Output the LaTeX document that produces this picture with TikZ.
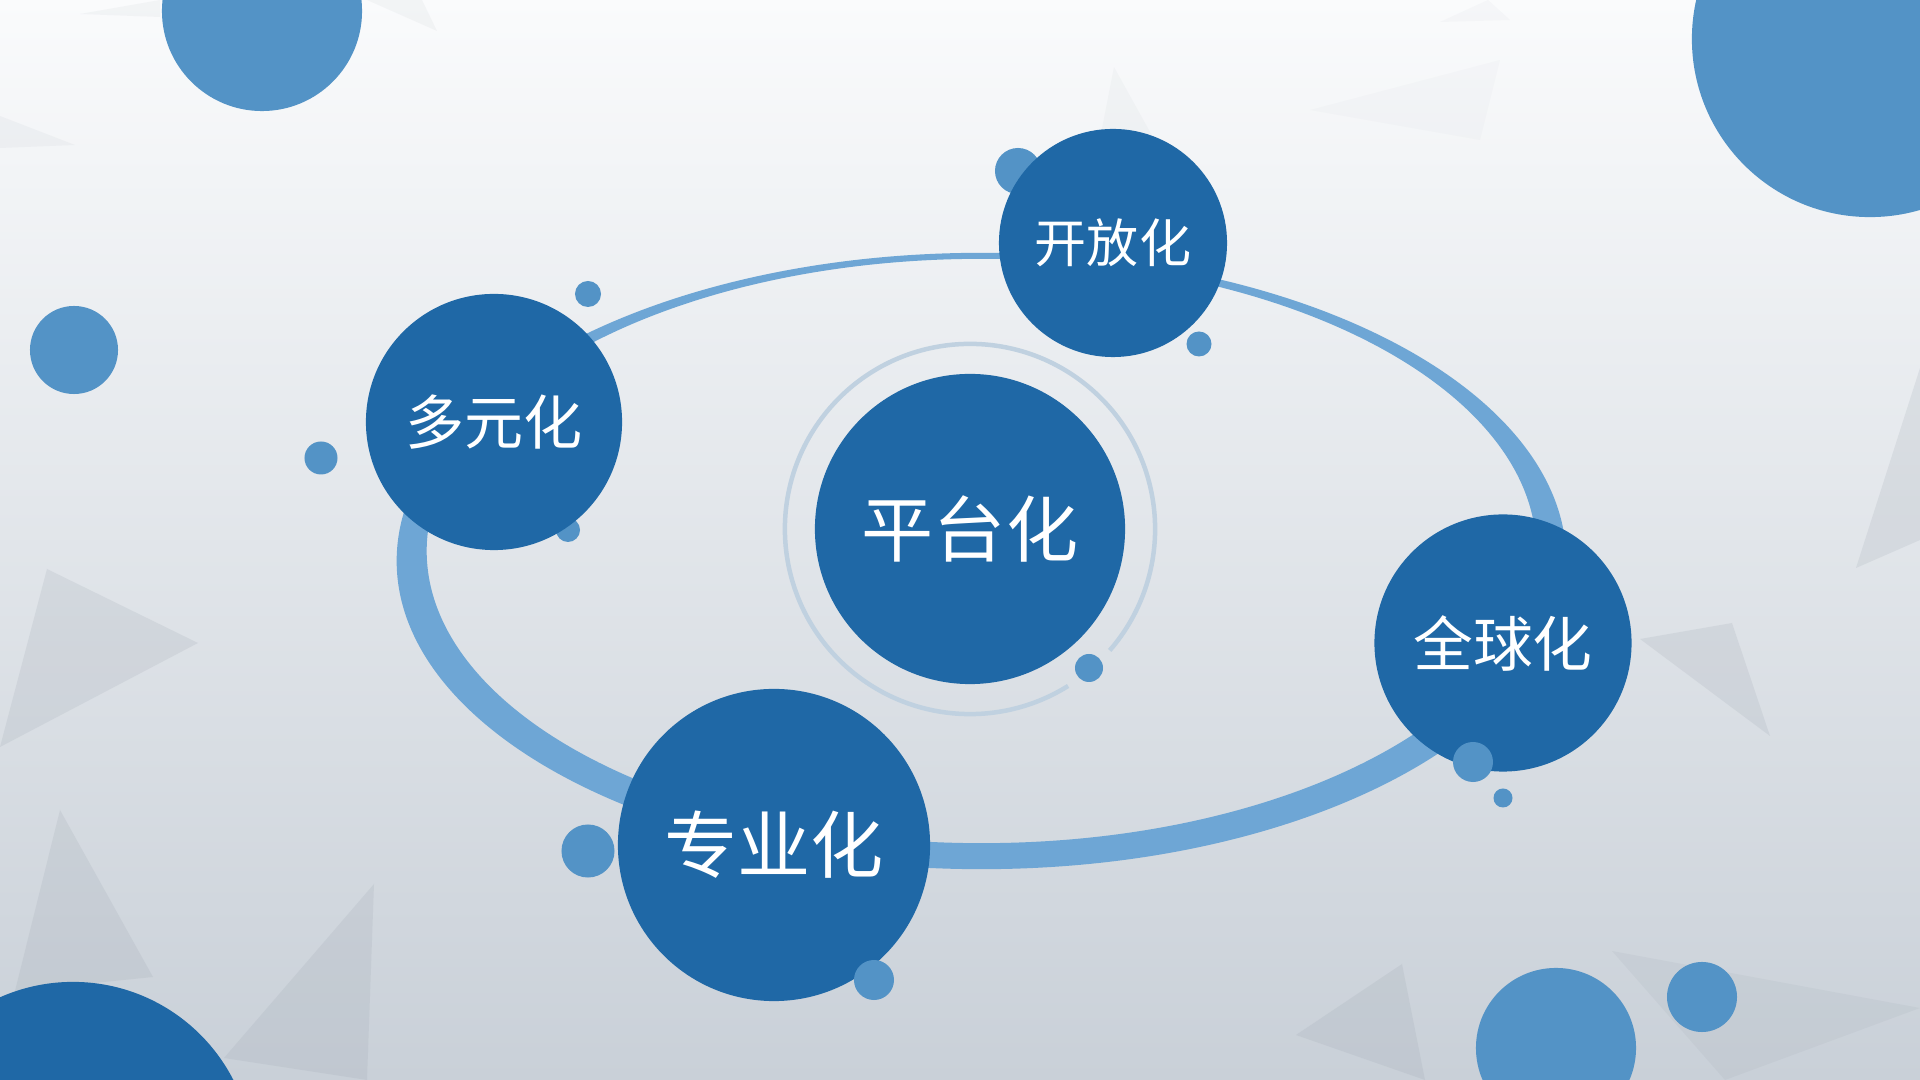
\documentclass[tikz,border=0pt]{standalone}
\usepackage{fontspec}
\newfontfamily\cjk{Noto Sans CJK SC}
\definecolor{darkc}{HTML}{1F68A6}
\definecolor{lightc}{HTML}{5393C6}
\definecolor{ringc}{HTML}{6EA6D5}
\definecolor{innerc}{HTML}{C0D1E0}
\definecolor{bgtop}{HTML}{FAFBFC}
\definecolor{bgbot}{HTML}{C9D0D8}
\definecolor{tri}{HTML}{9AA3AE}
\tikzset{
  maincirc/.style={circle, fill=darkc, text=white, inner sep=0pt},
  dot/.style={fill=lightc},
  tribg/.style={fill=tri, fill opacity=0.18},
}
\begin{document}
\begin{tikzpicture}[x=0.01cm,y=-0.01cm]
\useasboundingbox (0,0) rectangle (1920,1080);
% background
\shade[top color=bgtop, bottom color=bgbot] (0,0) rectangle (1920,1080);
% faint triangles
\fill[tribg] (47,569) -- (198,643) -- (0,747) -- cycle;
\fill[tribg] (60,810) -- (153,977) -- (15,991) -- cycle;
\fill[tribg] (374,884) -- (224,1058) -- (367,1080) -- cycle;
\fill[tribg] (1402,964) -- (1296,1035) -- (1425,1080) -- cycle;
\fill[tribg] (1640,639) -- (1732,623) -- (1770,736) -- cycle;
\fill[tribg] (1920,368) -- (1856,568) -- (1920,540) -- cycle;
\fill[tribg, fill opacity=0.12] (1612,951) -- (1920,1008) -- (1725,1080) -- cycle;
\fill[tribg, fill opacity=0.08] (160,0) -- (80,14) -- (160,17) -- cycle;
\fill[tribg, fill opacity=0.08] (367,0) -- (437,31) -- (422,0) -- cycle;
\fill[tribg, fill opacity=0.08] (0,116) -- (75,145) -- (0,148) -- cycle;
\fill[tribg, fill opacity=0.06] (1114,67) -- (1090,190) -- (1160,150) -- cycle;
\fill[tribg, fill opacity=0.05] (1440,22) -- (1488,0) -- (1510,20) -- cycle;
\fill[tribg, fill opacity=0.04] (1310,110) -- (1500,60) -- (1480,140) -- cycle;
% dots behind circles
\fill[dot] (1018,171) circle[radius=0.23cm];
\fill[dot] (568,530) circle[radius=0.12cm];
% big ring
\fill[ringc, even odd rule] (981.5,561) ellipse[x radius=5.845cm, y radius=3.08cm]
  (981.5,551) ellipse[x radius=5.545cm, y radius=2.92cm];
% inner ring around centre
\draw[innerc, line width=0.45mm] (970,529) ++(-41:1.85cm) arc[start angle=-41, end angle=302, radius=1.85cm];
% background dots
\fill[dot] (262,11) circle[radius=1.0cm];
\fill[dot] (1870,39) circle[radius=1.78cm];
\fill[dot] (74,350) circle[radius=0.44cm];
\fill[dot] (588,294) circle[radius=0.13cm];
\fill[dot] (321,458) circle[radius=0.165cm];
\fill[dot] (1199,344) circle[radius=0.125cm];
\fill[dot] (588,851) circle[radius=0.265cm];
\fill[dot] (1089,668) circle[radius=0.14cm];
\fill[dot] (1503,798) circle[radius=0.095cm];
\fill[dot] (1556,1048) circle[radius=0.80cm];
\fill[dot] (1702,997) circle[radius=0.35cm];
\fill[darkc] (73,1162) circle[radius=1.80cm];
% main circles
\node[maincirc, minimum size=3.10cm, font=\cjk\fontsize{20.5}{24}\selectfont] (pt) at (970,529) {平台化};
\node[maincirc, minimum size=2.28cm, font=\cjk\fontsize{14.8}{18}\selectfont] (kf) at (1113,243) {开放化};
\node[maincirc, minimum size=2.56cm, font=\cjk\fontsize{16.8}{20}\selectfont] (dy) at (494,422) {多元化};
\node[maincirc, minimum size=3.12cm, font=\cjk\fontsize{20.8}{24}\selectfont] (zy) at (774,845) {专业化};
\node[maincirc, minimum size=2.57cm, font=\cjk\fontsize{17}{20}\selectfont] (qq) at (1503,643) {全球化};
% dots in front
\fill[dot] (874,980) circle[radius=0.20cm];
\fill[dot] (1473,762) circle[radius=0.20cm];
\end{tikzpicture}
\end{document}
